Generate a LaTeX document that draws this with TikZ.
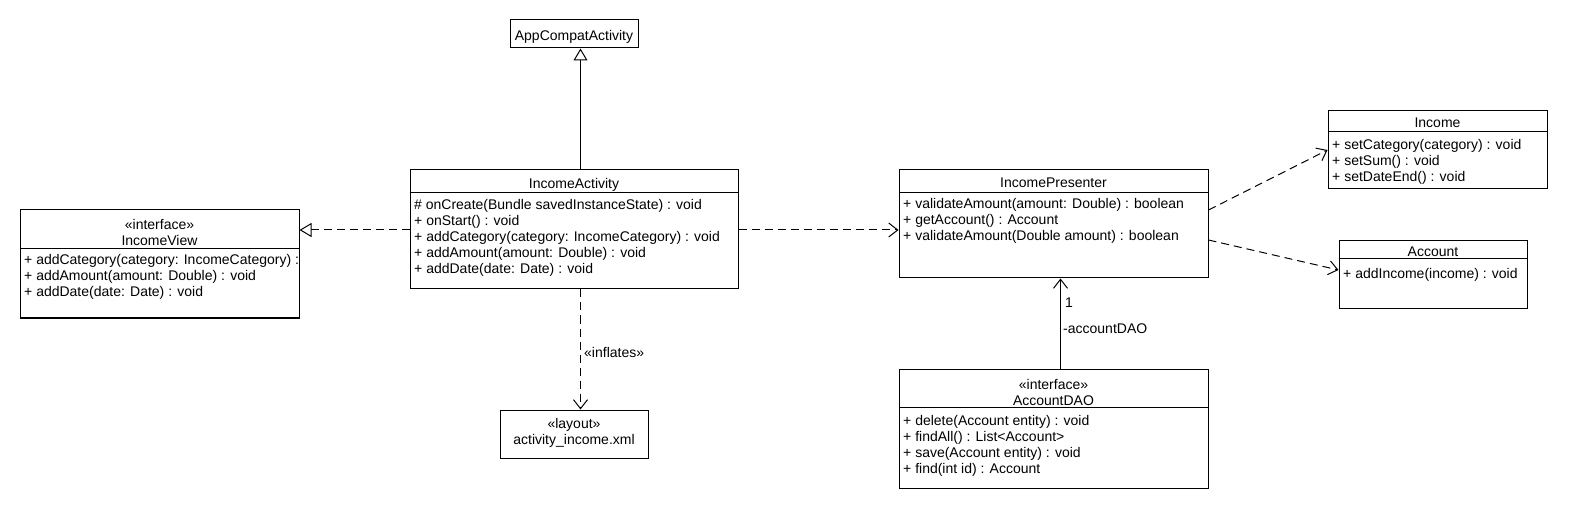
\documentclass[tikz,border=0pt]{standalone}
\usepackage{fontspec}
\setmainfont{Liberation Sans}
\usetikzlibrary{arrows.meta}
\newcommand\fstrut{\rule{0pt}{10.5pt}}
\tikzset{
  cls/.style={draw, line width=1pt, inner sep=0pt, fill=white},
  txt/.style={inner sep=0pt, font=\fontsize{14}{16}\selectfont},
  mem/.style={txt, anchor=north west, align=left, yshift=-1.5pt},
  hdr/.style={txt, anchor=north, align=center, yshift=-1.5pt},
  lbl/.style={txt, anchor=base west},
  conn/.style={line width=1pt},
  dashline/.style={dash pattern=on 8pt off 5pt},
  gen/.style={conn, -{Triangle[open, length=12pt, width=14pt, fill=white]}},
  real/.style={conn, dashline, -{Triangle[open, length=12pt, width=14pt, fill=white]}},
  dep/.style={conn, dashline, -{Straight Barb[length=9pt, width=14pt]}},
  assoc/.style={conn, -{Straight Barb[length=9pt, width=14pt]}},
}
\begin{document}
\begin{tikzpicture}[x=1pt, y=-1pt]
\useasboundingbox (0,0) rectangle (1570,510);

% boxes
\node[cls, minimum width=128pt, minimum height=28pt] (ac) at (574,34) {};
\node[cls, minimum width=328pt, minimum height=119pt] (ia) at (574,229.5) {};
\node[cls, minimum width=279pt, minimum height=108pt] (iv) at (159.5,264) {};
\node[cls, minimum width=309pt, minimum height=108pt] (ip) at (1053.5,224) {};
\node[cls, minimum width=219pt, minimum height=78pt] (inc) at (1437.5,149.5) {};
\node[cls, minimum width=188pt, minimum height=68pt] (acc) at (1433,274.5) {};
\node[cls, minimum width=309pt, minimum height=119pt] (dao) at (1053.5,428.5) {};
\node[cls, minimum width=148pt, minimum height=48pt] (lay) at (574,434) {};

% dividers
\draw[line width=1pt] ([yshift=-23pt]ia.north west) -- ([yshift=-23pt]ia.north east);
\draw[line width=1pt] ([yshift=-39pt]iv.north west) -- ([yshift=-39pt]iv.north east);
\draw[line width=1pt] ([yshift=-23pt]ip.north west) -- ([yshift=-23pt]ip.north east);
\draw[line width=1pt] ([yshift=-22pt]inc.north west) -- ([yshift=-22pt]inc.north east);
\draw[line width=1pt] ([yshift=-19pt]acc.north west) -- ([yshift=-19pt]acc.north east);
\draw[line width=1pt] ([yshift=-39pt]dao.north west) -- ([yshift=-39pt]dao.north east);

% headers
\node[hdr] (acT) at (574,28) {\fstrut AppCompatActivity};
\node[hdr] (iaT) at (574,176.5) {\fstrut IncomeActivity};
\node[hdr] (ivT) at (159.5,217.5) {\fstrut «interface»\\IncomeView};
\node[hdr] (ipT) at (1053.5,175.5) {\fstrut IncomePresenter};
\node[hdr] (incT) at (1437.5,115.5) {\fstrut Income};
\node[hdr] (accT) at (1433,244.5) {\fstrut Account};
\node[hdr] (daoT) at (1053.5,377.5) {\fstrut «interface»\\AccountDAO};
\node[hdr] (layT) at (574,416) {\fstrut «layout»\\activity\_income.xml};

% members
\node[mem] (iaM) at (414,197.5) {\fstrut \# onCreate(Bundle savedInstanceState) : void\\
+ onStart() : void\\
+ addCategory(category: IncomeCategory) : void\\
+ addAmount(amount: Double) : void\\
+ addDate(date: Date) : void};
\node[mem] (ivM) at (24,252.5) {\fstrut + addCategory(category: IncomeCategory) :\\
+ addAmount(amount: Double) : void\\
+ addDate(date: Date) : void};
\node[mem] (ipM) at (903,196.5) {\fstrut + validateAmount(amount: Double) : boolean\\
+ getAccount() : Account\\
+ validateAmount(Double amount) : boolean};
\node[mem] (incM) at (1332,137.5) {\fstrut + setCategory(category) : void\\
+ setSum() : void\\
+ setDateEnd() : void};
\node[mem] (accM) at (1343,266) {\fstrut + addIncome(income) : void};
\node[mem] (daoM) at (903,413.5) {\fstrut + delete(Account entity) : void\\
+ findAll() : List<Account>\\
+ save(Account entity) : void\\
+ find(int id) : Account};

% connector helpers
\coordinate (vx) at (580.5,0);
\coordinate (vy) at (0,230);
\coordinate (vd) at (1060.5,0);

% connectors
\draw[gen] (ia.north -| vx) -- (ac.south -| vx);
\draw[real] (ia.west |- vy) -- (iv.east |- vy);
\draw[dep] (ia.east |- vy) -- (ip.west |- vy);
\draw[dep] (ia.south -| vx) -- (lay.north -| vx);
\draw[assoc] (dao.north -| vd) -- (ip.south -| vd);
\draw[dep] ([yshift=14pt]ip.east) -- ([yshift=-0.5pt]inc.west);
\draw[dep] ([yshift=-16pt]ip.east) -- ([yshift=4.5pt]acc.west);

% labels
\node[lbl] (infl) at (584,357) {«inflates»};
\node[lbl] (mult) at (1065,308) {1};
\node[lbl] (role) at (1063,334) {-accountDAO};
\end{tikzpicture}
\end{document}
